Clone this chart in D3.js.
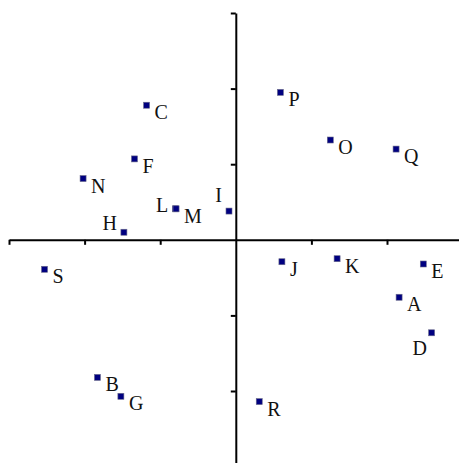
<!DOCTYPE html>
<html>
<head>
<meta charset="utf-8">
<script src="https://cdn.jsdelivr.net/npm/d3@7"></script>
<style>
  body { margin: 0; background: #fff; }
  svg { display: block; }
  .axis path, .axis line { stroke: #000; }
  .pt-label { font-family: "Liberation Serif", "Times New Roman", serif; font-size: 20px; fill: #111; }
</style>
</head>
<body>
<div id="chart"></div>
<script>
// points
const names = ["A","B","C","D","E","F","G","H","I","J","K","L","M","N","O","P","Q","R","S"];
const xVals = [2.16,-1.83,-1.18,2.59,2.48,-1.34,-1.52,-1.48,-0.09,0.61,1.34,-0.80,-0.79,-2.02,1.25,0.59,2.12,0.31,-2.53];
const yVals = [-0.76,-1.82,1.78,-1.23,-0.32,1.07,-2.07,0.10,0.38,-0.29,-0.25,0.41,0.41,0.81,1.32,1.95,1.20,-2.14,-0.39];
const tickVals = [-3,-2,-1,1,2,3];

const w = 459;
const h = 463;

// where the label sits relative to its marker
const labelPlace = { H: "upleft", L: "left", I: "upleft", D: "below" };

const data = names.map((n, i) => ({ name: n, x: xVals[i], y: yVals[i] }));

const svg = d3.select("#chart").append("svg")
  .attr("width", w)
  .attr("height", h);

const xScale = d3.scaleLinear().domain([-3, 3]).range([9, 462.6]);
const yScale = d3.scaleLinear().domain([-3, 3]).range([466.6, 13]);

const xAxis = d3.axisBottom(xScale).tickValues(tickVals).tickFormat("").tickSizeInner(5).tickSizeOuter(0);
const yAxis = d3.axisLeft(yScale).tickValues(tickVals).tickFormat("").tickSizeInner(5).tickSizeOuter(0);

svg.append("g")
  .attr("class", "axis")
  .attr("transform", "translate(0," + yScale(0) + ")")
  .call(xAxis)
  .call(g => g.selectAll("path, line").attr("stroke-width", 2));

svg.append("g")
  .attr("class", "axis")
  .attr("transform", "translate(" + xScale(0) + ",0)")
  .call(yAxis)
  .call(g => g.selectAll("path, line").attr("stroke-width", 2));

const s = 6;
svg.selectAll("rect.pt")
  .data(data)
  .enter()
  .append("rect")
  .attr("class", "pt")
  .attr("x", d => xScale(d.x) - s / 2)
  .attr("y", d => yScale(d.y) - s / 2)
  .attr("width", s)
  .attr("height", s)
  .attr("fill", "#000080")
  .attr("stroke", "#6a6a8a")
  .attr("stroke-width", 0.6);

svg.selectAll("text.pt-label")
  .data(data)
  .enter()
  .append("text")
  .attr("class", "pt-label")
  .text(d => d.name)
  .attr("x", d => {
    const p = labelPlace[d.name];
    if (p === "upleft" || p === "left") return xScale(d.x) - 7;
    if (p === "below") return xScale(d.x) - 12;
    return xScale(d.x) + 8;
  })
  .attr("y", d => {
    const p = labelPlace[d.name];
    if (d.name === "I") return yScale(d.y) - 9;
    if (p === "upleft") return yScale(d.y) - 2;
    if (p === "left") return yScale(d.y) + 3;
    if (p === "below") return yScale(d.y) + 22;
    return yScale(d.y) + 14;
  })
  .attr("text-anchor", d => {
    const p = labelPlace[d.name];
    if (p === "upleft" || p === "left") return "end";
    if (p === "below") return "middle";
    return "start";
  });
</script>
</body>
</html>
